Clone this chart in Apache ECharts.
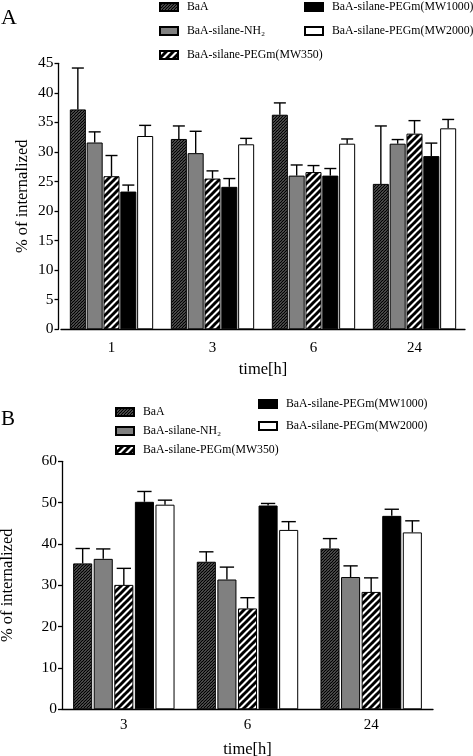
<!DOCTYPE html>
<html>
<head>
<meta charset="utf-8">
<script src="https://cdn.jsdelivr.net/npm/echarts@6/dist/echarts.min.js"></script>
<style>
html,body{margin:0;padding:0;background:#fff;}
#c{width:473px;height:756px;}
</style>
</head>
<body>
<div id="c"></div>
<script>
// ---- data ----
const seriesNames = ['BaA', 'BaA-silane-NH\u2082', 'BaA-silane-PEGm(MW350)', 'BaA-silane-PEGm(MW1000)', 'BaA-silane-PEGm(MW2000)'];

const categoriesA = ['1', '3', '6', '24'];
const A_BaA = [37.2, 32.2, 36.3, 24.6];
const A_BaA_err = [7.0, 2.2, 2.0, 9.8];
const A_NH2 = [31.6, 29.8, 26.0, 31.4];
const A_NH2_err = [1.8, 3.7, 1.8, 0.7];
const A_MW350 = [25.9, 25.5, 26.6, 33.1];
const A_MW350_err = [3.5, 1.3, 1.1, 2.2];
const A_MW1000 = [23.3, 24.1, 26.0, 29.3];
const A_MW1000_err = [1.1, 1.4, 1.2, 2.2];
const A_MW2000 = [32.7, 31.3, 31.4, 34.0];
const A_MW2000_err = [1.8, 1.0, 0.8, 1.5];

const categoriesB = ['3', '6', '24'];
const B_BaA = [35.3, 35.7, 38.9];
const B_BaA_err = [3.6, 2.4, 2.4];
const B_NH2 = [36.4, 31.4, 32.0];
const B_NH2_err = [2.4, 3.0, 2.7];
const B_MW350 = [30.1, 24.4, 28.4];
const B_MW350_err = [4.0, 2.6, 3.4];
const B_MW1000 = [50.2, 49.3, 46.8];
const B_MW1000_err = [2.5, 0.5, 1.6];
const B_MW2000 = [49.5, 43.4, 42.8];
const B_MW2000_err = [1.1, 2.0, 2.8];

const yTicksA = {min: 0, max: 45, interval: 5};
const yTicksB = {min: 0, max: 60, interval: 10};

// ---- patterns ----
function hatch(size, lw, bg, fg) {
  const cv = document.createElement('canvas');
  cv.width = size; cv.height = size;
  const ctx = cv.getContext('2d');
  ctx.fillStyle = bg; ctx.fillRect(0, 0, size, size);
  ctx.strokeStyle = fg; ctx.lineWidth = lw;
  for (let k = -1; k <= 1; k++) {
    ctx.beginPath();
    ctx.moveTo(k * size - 1, size + 1);
    ctx.lineTo(k * size + size + 1, -1);
    ctx.stroke();
  }
  return {image: cv, repeat: 'repeat'};
}
const fills = [
  hatch(3, 1.6, '#d8d8d8', '#000000'),
  '#808080',
  hatch(7, 3, '#ffffff', '#000000'),
  '#000000',
  '#ffffff'
];

const FONT = 'Liberation Serif';
const CAT_GAP = 0.175, BAR_GAP = 0.05;
const CAT_GAP_B = 0.18, BAR_GAP_B = 0.08;

function barSeries(name, idx, data, axisIdx, catGap, barGap) {
  return {
    type: 'bar', name: name, data: data,
    xAxisIndex: axisIdx, yAxisIndex: axisIdx,
    barCategoryGap: (catGap * 100) + '%', barGap: (barGap * 100) + '%',
    itemStyle: {color: fills[idx], borderColor: '#000', borderWidth: 1},
    emphasis: {disabled: true},
    animation: false
  };
}
function errSeries(name, idx, vals, errs, axisIdx, catGap, barGap) {
  return {
    type: 'custom', name: name,
    xAxisIndex: axisIdx, yAxisIndex: axisIdx,
    data: vals.map((v, i) => [i, v, v + errs[i]]),
    encode: {x: 0, y: [1, 2]},
    animation: false, silent: true,
    renderItem: function (params, api) {
      const band = api.size([1, 0])[0];
      const groupW = band * (1 - catGap);
      const n = 5;
      const bw = groupW / (n + (n - 1) * barGap);
      const base = api.coord([api.value(0), api.value(1)]);
      const top = api.coord([api.value(0), api.value(2)]);
      const x = base[0] - groupW / 2 + idx * bw * (1 + barGap) + bw / 2;
      const cap = bw * 0.75;
      const st = {stroke: '#000', lineWidth: 1.4};
      return {
        type: 'group',
        children: [
          {type: 'line', shape: {x1: x, y1: base[1], x2: x, y2: top[1]}, style: st},
          {type: 'line', shape: {x1: x - cap / 2, y1: top[1], x2: x + cap / 2, y2: top[1]}, style: st}
        ]
      };
    }
  };
}

const dataA = [A_BaA, A_NH2, A_MW350, A_MW1000, A_MW2000];
const errA = [A_BaA_err, A_NH2_err, A_MW350_err, A_MW1000_err, A_MW2000_err];
const dataB = [B_BaA, B_NH2, B_MW350, B_MW1000, B_MW2000];
const errB = [B_BaA_err, B_NH2_err, B_MW350_err, B_MW1000_err, B_MW2000_err];

const series = [];
seriesNames.forEach((nm, i) => series.push(barSeries(nm, i, dataA[i], 0, CAT_GAP, BAR_GAP)));
seriesNames.forEach((nm, i) => series.push(barSeries(nm, i, dataB[i], 1, CAT_GAP_B, BAR_GAP_B)));
seriesNames.forEach((nm, i) => series.push(errSeries(nm, i, dataA[i], errA[i], 0, CAT_GAP, BAR_GAP)));
seriesNames.forEach((nm, i) => series.push(errSeries(nm, i, dataB[i], errB[i], 1, CAT_GAP_B, BAR_GAP_B)));

const axisLine = {lineStyle: {color: '#000', width: 1.3}};
function yAxis(grid, t, offset, gap) {
  return {
    type: 'value', gridIndex: grid, min: t.min, max: t.max, interval: t.interval,
    offset: offset,
    axisLine: Object.assign({show: true}, axisLine),
    axisTick: {show: true, length: 4, lineStyle: {color: '#000', width: 1.3}},
    axisLabel: {color: '#000', fontFamily: FONT, fontSize: 15.5, margin: 5},
    splitLine: {show: false},
    name: '% of internalized', nameLocation: 'middle', nameGap: gap,
    nameMoveOverlap: false,
    nameTextStyle: {color: '#000', fontFamily: FONT, fontSize: 16.5}
  };
}
function xAxis(grid, cats, lblMargin, nameGap) {
  return {
    type: 'category', gridIndex: grid, data: cats,
    axisLine: axisLine, axisTick: {show: false},
    axisLabel: {color: '#000', fontFamily: FONT, fontSize: 15, margin: lblMargin},
    name: 'time[h]', nameLocation: 'middle', nameGap: nameGap,
    nameTextStyle: {color: '#000', fontFamily: FONT, fontSize: 16.5}
  };
}
function legend(names, left, top, gap) {
  return {
    data: names, orient: 'vertical', left: left, top: top, padding: 0,
    itemWidth: 18, itemHeight: 8, itemGap: gap, icon: 'rect',
    selectedMode: false,
    textStyle: {color: '#000', fontFamily: FONT, fontSize: 11.8, lineHeight: 14, padding: [0, 0, 0, 4]}
  };
}

const option = {
  animation: false,
  backgroundColor: '#fff',
  title: [
    {text: 'A', left: 1, top: 7, padding: 0, textStyle: {fontFamily: FONT, fontSize: 22, fontWeight: 'normal', color: '#000'}},
    {text: 'B', left: 1, top: 409, padding: 0, textStyle: {fontFamily: FONT, fontSize: 21, fontWeight: 'normal', color: '#000'}}
  ],
  legend: [
    legend(seriesNames.slice(0, 3), 159, 0, 10),
    legend(seriesNames.slice(3), 304, 0, 10),
    legend(seriesNames.slice(0, 3), 115, 405, 5),
    legend(seriesNames.slice(3), 258, 397, 8)
  ],
  grid: [
    {left: 61, right: 8, top: 63.3, height: 266, outerBoundsMode: 'none', containLabel: false},
    {left: 62, right: 40, top: 461.3, height: 248, outerBoundsMode: 'none', containLabel: false}
  ],
  xAxis: [xAxis(0, categoriesA, 11, 32), xAxis(1, categoriesB, 8, 32)],
  yAxis: [yAxis(0, yTicksA, 2.5, 27), yAxis(1, yTicksB, 0, 46)],
  series: series
};

const chart = echarts.init(document.getElementById('c'), null, {renderer: 'canvas'});
chart.setOption(option);
</script>
</body>
</html>
